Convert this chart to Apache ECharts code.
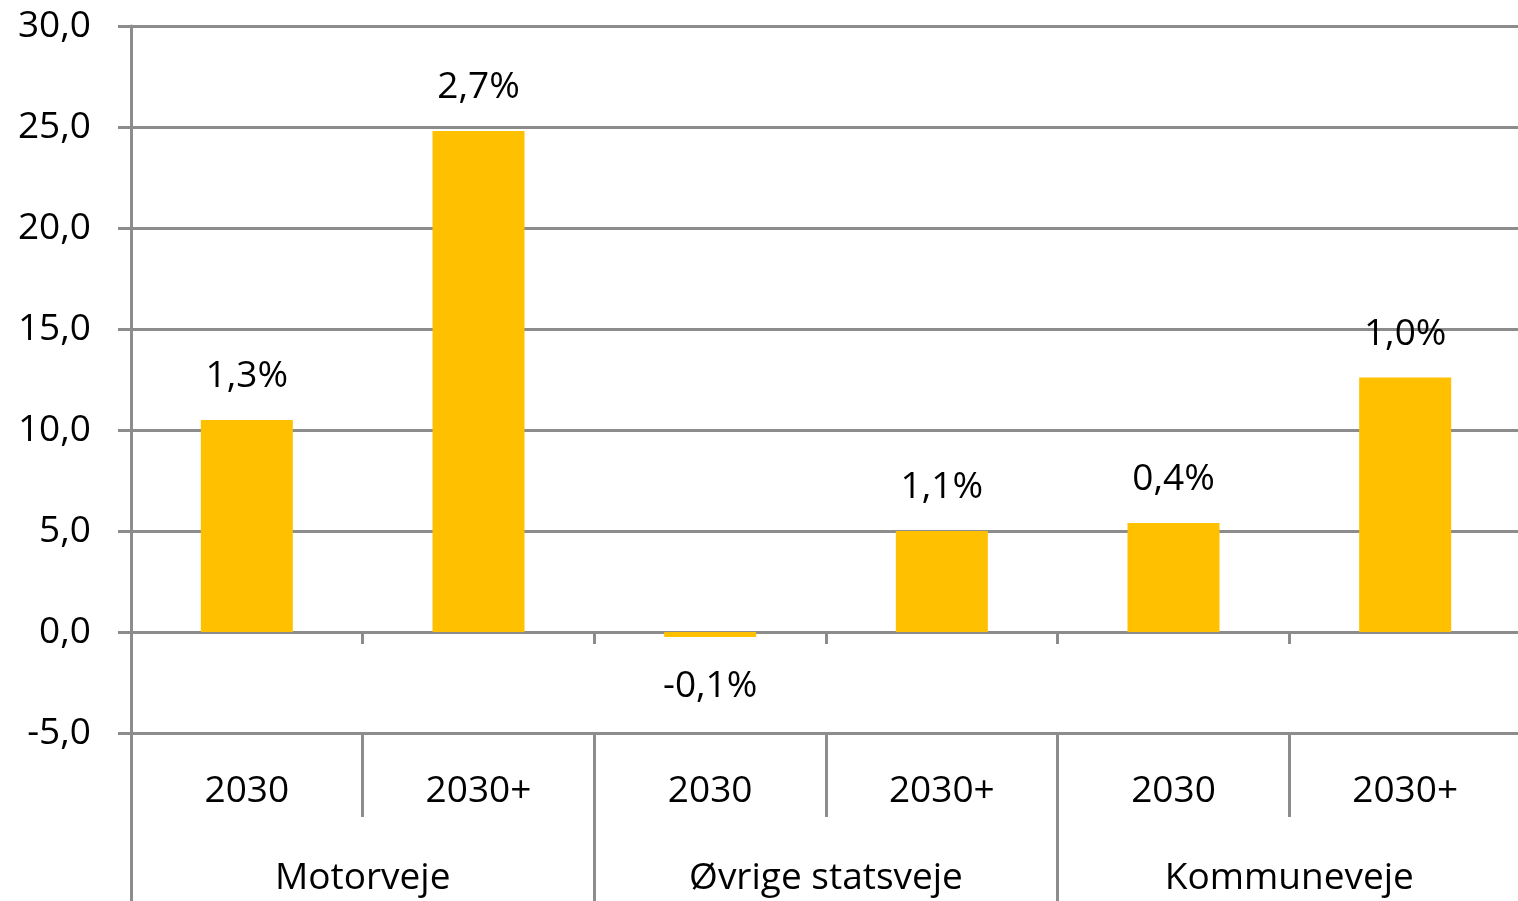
<!DOCTYPE html>
<html>
<head>
<meta charset="utf-8">
<script src="https://cdn.jsdelivr.net/npm/echarts@6/dist/echarts.min.js"></script>
<style>
  html, body { margin: 0; padding: 0; background: #fff; }
  #chart { width: 1518px; height: 901px; }
</style>
</head>
<body>
<div id="chart"></div>
<script>
// data
var years = ['2030', '2030+', '2030', '2030+', '2030', '2030+'];
var groups = ['Motorveje', 'Øvrige statsveje', 'Kommuneveje'];
var values = [10.5, 24.8, -0.25, 5.0, 5.4, 12.6];
var pctLabels = ['1,3%', '2,7%', '-0,1%', '1,1%', '0,4%', '1,0%'];

var gray = '#8c8c8c';
var font = 'Open Sans';
var fsize = 37;

var chart = echarts.init(document.getElementById('chart'));

var barData = values.map(function (v, i) {
    return {
        value: v,
        label: { formatter: pctLabels[i], distance: v < 0 ? 31 : 25 }
    };
});

var option = {
    animation: false,
    grid: {
        left: 131, right: -3, top: 26, bottom: 168,
        containLabel: false,
        outerBoundsMode: 'none'
    },
    xAxis: [
        {
            type: 'category',
            data: years,
            position: 'bottom',
            axisLine: { show: true, onZero: true, lineStyle: { color: gray, width: 3 } },
            axisTick: { show: true, length: 12, interval: 0, lineStyle: { color: gray, width: 3 } },
            axisLabel: { show: false }
        },
        {
            type: 'category',
            data: years,
            position: 'bottom',
            axisLine: { show: false, onZero: false },
            axisTick: { show: true, length: 84, interval: 0, lineStyle: { color: gray, width: 3 } },
            axisLabel: { interval: 0, margin: 40, fontSize: fsize, fontFamily: font, color: '#000' }
        },
        {
            type: 'category',
            data: groups,
            position: 'bottom',
            offset: 84,
            axisLine: { show: false, onZero: false },
            axisTick: { show: true, length: 84, interval: 0, lineStyle: { color: gray, width: 3 } },
            axisLabel: { interval: 0, margin: 43, fontSize: fsize, fontFamily: font, color: '#000' }
        }
    ],
    yAxis: {
        type: 'value',
        min: -5,
        max: 30,
        interval: 5,
        axisLine: { show: true, lineStyle: { color: gray, width: 3 } },
        axisTick: { show: true, length: 13, lineStyle: { color: gray, width: 3 } },
        splitLine: { show: true, lineStyle: { color: gray, width: 3 } },
        axisLabel: {
            margin: 40,
            fontSize: fsize,
            fontFamily: font,
            color: '#000',
            formatter: function (v) { return v.toFixed(1).replace('.', ','); }
        }
    },
    series: [{
        type: 'bar',
        xAxisIndex: 0,
        data: barData,
        barWidth: 92,
        itemStyle: { color: '#FFC000' },
        label: {
            show: true,
            position: 'outside',
            fontSize: fsize,
            fontFamily: font,
            color: '#000'
        }
    }]
};

chart.setOption(option);
</script>
</body>
</html>
